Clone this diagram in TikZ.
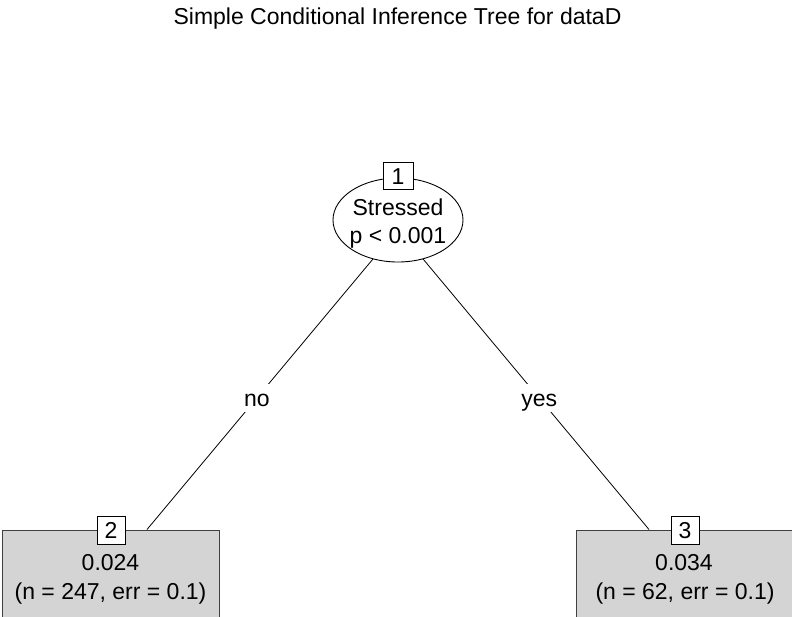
\documentclass[tikz,border=0pt]{standalone}
\usepackage{fontspec}
\setmainfont{Liberation Sans}
\usetikzlibrary{shapes.geometric,backgrounds}

\tikzset{
  txt/.style={font=\fontsize{23}{27}\selectfont, inner sep=0pt, anchor=base},
  innernode/.style={ellipse, draw=black, line width=0.9pt, fill=white,
    minimum width=130pt, minimum height=84pt, inner sep=0pt},
  leafbox/.style={draw=black!75, line width=0.9pt, fill=black!17,
    minimum width=217pt, minimum height=110pt, anchor=north, inner sep=0pt},
  idbox/.style={draw=black, line width=0.9pt, fill=white, inner sep=0pt,
    font=\fontsize{23}{27}\selectfont, text height=17pt, text depth=1pt},
  edgelab/.style={fill=white, font=\fontsize{23}{27}\selectfont,
    text height=20pt, text depth=4pt, inner xsep=1pt, inner ysep=2pt},
  branch/.style={draw=black, line width=0.8pt}
}

\begin{document}
\begin{tikzpicture}[x=1pt, y=-1pt]
  \useasboundingbox (0,0) rectangle (792,616);
  \clip (0,0) rectangle (792,616);

  % title
  \node[txt] (title) at (397.5,24) {Simple Conditional Inference Tree for dataD};

  % root split node
  \node[innernode] (root) at (398,220) {};
  \node[idbox, minimum width=30pt, minimum height=27pt] (id1) at (398,176) {1};
  \node[txt] (var) at (398,215) {Stressed};
  \node[txt] (pval) at (398,243) {p < 0.001};

  % terminal nodes
  \node[leafbox] (leaf2) at (110.5,529.5) {};
  \node[leafbox] (leaf3) at (685,529.5) {};
  \node[idbox, minimum width=28pt, minimum height=28pt] (id2) at (111,530) {2};
  \node[idbox, minimum width=28pt, minimum height=28pt] (id3) at (685,530) {3};
  \node[txt] (pred2) at (110.5,570) {0.024};
  \node[txt] (info2) at (110.5,599) {(n = 247, err = 0.1)};
  \node[txt] (pred3) at (684,570) {0.034};
  \node[txt] (info3) at (685,599) {(n = 62, err = 0.1)};

  % branches, drawn behind the nodes
  \coordinate (split) at (398,229);
  \coordinate (to2) at (147,529.5);
  \coordinate (to3) at (649,529.5);
  \begin{scope}[on background layer]
    \draw[branch] (split) -- (to2)
      node[edgelab, pos=0.5624] (lno) {no};
    \draw[branch] (split) -- (to3)
      node[edgelab, pos=0.5624] (lyes) {yes};
  \end{scope}
\end{tikzpicture}
\end{document}
